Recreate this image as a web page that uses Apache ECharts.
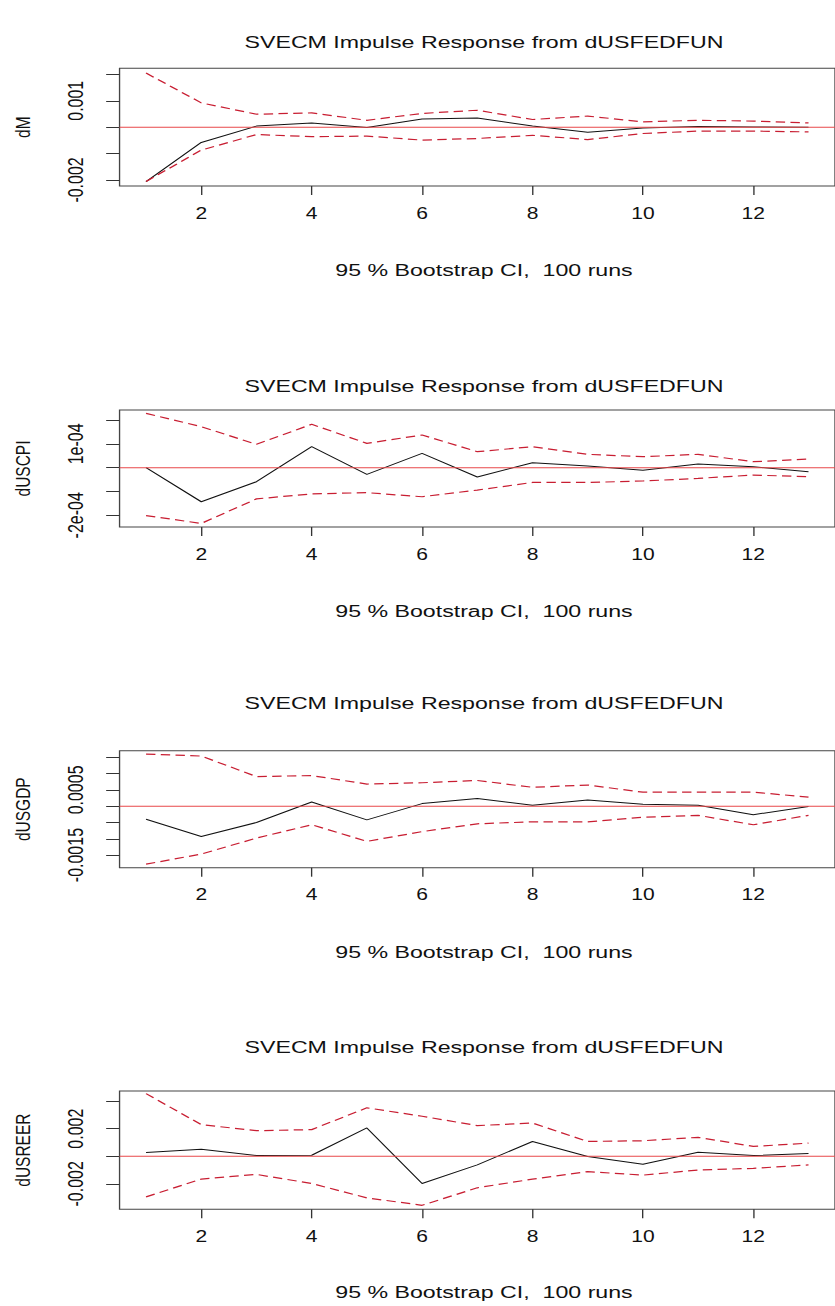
<!DOCTYPE html>
<html>
<head>
<meta charset="utf-8">
<script src="https://cdn.jsdelivr.net/npm/echarts@6/dist/echarts.min.js"></script>
<style>
  html, body { margin: 0; padding: 0; background: #fff; overflow: hidden; }
  #chart { width: 623px; height: 1306px; transform: scaleX(1.3403); transform-origin: 0 0; }
</style>
</head>
<body>
<div id="chart"></div>
<script>
// ---- data ----
const steps = [1, 2, 3, 4, 5, 6, 7, 8, 9, 10, 11, 12, 13];
const xLimits = [0.52, 13.48];
const xTickValues = [2, 4, 6, 8, 10, 12];
const mainTitle = 'SVECM Impulse Response from dUSFEDFUN';
const subTitle = '95 % Bootstrap CI,  100 runs';
const variableNames = ['dM', 'dUSCPI', 'dUSGDP', 'dUSREER'];

// dM
const dM_resp  = [-0.00206, -0.00058, 0.00004, 0.00016, -0.00001, 0.00031, 0.00035, 0.00004, -0.00019, -0.00003, 0.00002, 0.00001, 0.00000];
const dM_upper = [0.00205, 0.00092, 0.00049, 0.00054, 0.00026, 0.00052, 0.00064, 0.00029, 0.00042, 0.00020, 0.00026, 0.00023, 0.00016];
const dM_lower = [-0.00206, -0.00087, -0.00028, -0.00036, -0.00034, -0.00049, -0.00043, -0.00031, -0.00047, -0.00024, -0.00015, -0.00015, -0.00018];
const dM_ticks = [-0.002, -0.001, 0, 0.001, 0.002];
const dM_labelValues = [-0.002, 0.001];
const dM_labelTexts = ['-0.002', '0.001'];

// dUSCPI
const dUSCPI_resp  = [0.0, -1.43e-4, -0.59e-4, 0.88e-4, -0.28e-4, 0.60e-4, -0.39e-4, 0.21e-4, 0.07e-4, -0.11e-4, 0.15e-4, 0.04e-4, -0.17e-4];
const dUSCPI_upper = [2.28e-4, 1.72e-4, 0.98e-4, 1.82e-4, 1.02e-4, 1.37e-4, 0.67e-4, 0.88e-4, 0.56e-4, 0.46e-4, 0.56e-4, 0.25e-4, 0.36e-4];
const dUSCPI_lower = [-2.01e-4, -2.34e-4, -1.31e-4, -1.10e-4, -1.05e-4, -1.22e-4, -0.94e-4, -0.62e-4, -0.62e-4, -0.56e-4, -0.45e-4, -0.31e-4, -0.38e-4];
const dUSCPI_ticks = [-2e-4, -1e-4, 0, 1e-4, 2e-4];
const dUSCPI_labelValues = [-2e-4, 1e-4];
const dUSCPI_labelTexts = ['-2e-04', '1e-04'];

// dUSGDP
const dUSGDP_resp  = [-0.00040, -0.00093, -0.00050, 0.00013, -0.00042, 0.00008, 0.00024, 0.00003, 0.00019, 0.00006, 0.00003, -0.00026, -0.00001];
const dUSGDP_upper = [0.00160, 0.00154, 0.00091, 0.00094, 0.00068, 0.00072, 0.00079, 0.00058, 0.00065, 0.00043, 0.00043, 0.00043, 0.00028];
const dUSGDP_lower = [-0.00178, -0.00147, -0.00098, -0.00057, -0.00108, -0.00078, -0.00054, -0.00048, -0.00048, -0.00034, -0.00028, -0.00057, -0.00028];
const dUSGDP_ticks = [-0.0015, -0.001, -0.0005, 0, 0.0005, 0.001, 0.0015];
const dUSGDP_labelValues = [-0.0015, 0.0005];
const dUSGDP_labelTexts = ['-0.0015', '0.0005'];

// dUSREER
const dUSREER_resp  = [0.00027, 0.00051, 0.00005, 0.00007, 0.00205, -0.00198, -0.00063, 0.00107, -0.00002, -0.00059, 0.00029, 0.00005, 0.00020];
const dUSREER_upper = [0.00454, 0.00229, 0.00185, 0.00193, 0.00351, 0.00290, 0.00222, 0.00241, 0.00107, 0.00112, 0.00137, 0.00071, 0.00095];
const dUSREER_lower = [-0.00295, -0.00166, -0.00132, -0.00198, -0.00302, -0.00356, -0.00229, -0.00166, -0.00112, -0.00137, -0.00100, -0.00088, -0.00063];
const dUSREER_ticks = [-0.002, 0, 0.002, 0.004];
const dUSREER_labelValues = [-0.002, 0.002];
const dUSREER_labelTexts = ['-0.002', '0.002'];

const zeroLine = 0;

// ---- layout (chart coords; the page is stretched horizontally by CSS) ----
const FONT = '"Liberation Sans", Arial, sans-serif';
const TEXT_COLOR = '#111';
const gridLeft = 89.2;
const gridWidth = 543.7;
const titleX = 361.1;
const layout = [
  { top: 68.3,  height: 117.7, min: -0.00223, max: 0.00223, titleY: 42,   subY: 270 },
  { top: 410,   height: 117,   min: -2.49e-4, max: 2.42e-4, titleY: 386,  subY: 611 },
  { top: 750.7, height: 117,   min: -0.001888, max: 0.001704, titleY: 703, subY: 952 },
  { top: 1091,  height: 118.3, min: -0.00385, max: 0.00473, titleY: 1047, subY: 1292 }
];

const panels = [
  { resp: dM_resp, upper: dM_upper, lower: dM_lower, ticks: dM_ticks, lv: dM_labelValues, lt: dM_labelTexts },
  { resp: dUSCPI_resp, upper: dUSCPI_upper, lower: dUSCPI_lower, ticks: dUSCPI_ticks, lv: dUSCPI_labelValues, lt: dUSCPI_labelTexts },
  { resp: dUSGDP_resp, upper: dUSGDP_upper, lower: dUSGDP_lower, ticks: dUSGDP_ticks, lv: dUSGDP_labelValues, lt: dUSGDP_labelTexts },
  { resp: dUSREER_resp, upper: dUSREER_upper, lower: dUSREER_lower, ticks: dUSREER_ticks, lv: dUSREER_labelValues, lt: dUSREER_labelTexts }
];

const grids = [], xAxes = [], yAxes = [], series = [], graphics = [];
panels.forEach((p, i) => {
  const L = layout[i];
  grids.push({ left: gridLeft, width: gridWidth, top: L.top, height: L.height, show: true,
    borderColor: '#444', borderWidth: 1, backgroundColor: 'transparent' });
  xAxes.push({
    gridIndex: i, type: 'value', min: xLimits[0], max: xLimits[1], position: 'bottom',
    axisLine: { show: false, onZero: false },
    axisTick: { show: true, inside: false, length: 9, customValues: xTickValues, lineStyle: { color: '#333', width: 1 } },
    axisLabel: { customValues: xTickValues, margin: 19, fontSize: 15.7, color: TEXT_COLOR, fontFamily: FONT },
    splitLine: { show: false }, splitArea: { show: false }
  });
  yAxes.push({
    gridIndex: i, type: 'value', min: L.min, max: L.max, position: 'left',
    name: variableNames[i], nameLocation: 'middle', nameRotate: 90, nameGap: 64,
    nameTextStyle: { fontSize: 15.5, color: TEXT_COLOR, fontFamily: FONT },
    axisLine: { show: false, onZero: false },
    axisTick: { show: true, inside: false, length: 10, customValues: p.ticks, lineStyle: { color: '#333', width: 1 } },
    axisLabel: {
      customValues: p.lv, rotate: 90, margin: 25, fontSize: 16, color: TEXT_COLOR, fontFamily: FONT,
      formatter: (v) => { for (let k = 0; k < p.lv.length; k++) { if (Math.abs(v - p.lv[k]) < 1e-12) return p.lt[k]; } return ''; }
    },
    splitLine: { show: false }, splitArea: { show: false }
  });
  series.push({
    type: 'line', xAxisIndex: i, yAxisIndex: i, symbol: 'none', silent: true, z: 2,
    data: steps.map((s, k) => [s, p.resp[k]]),
    lineStyle: { color: '#111', width: 1 }
  });
  series.push({
    type: 'line', xAxisIndex: i, yAxisIndex: i, symbol: 'none', silent: true, z: 3,
    data: steps.map((s, k) => [s, p.upper[k]]),
    lineStyle: { color: '#c81e32', width: 1.2, type: [7, 4] }
  });
  series.push({
    type: 'line', xAxisIndex: i, yAxisIndex: i, symbol: 'none', silent: true, z: 3,
    data: steps.map((s, k) => [s, p.lower[k]]),
    lineStyle: { color: '#c81e32', width: 1.2, type: [7, 4] }
  });
  // zero reference line (abline h = 0), spanning the whole x range
  series.push({
    type: 'line', xAxisIndex: i, yAxisIndex: i, symbol: 'none', silent: true, z: 5,
    data: xLimits.map(x => [x, zeroLine]),
    lineStyle: { color: '#e8474a', width: 1, type: 'solid' }
  });
  graphics.push({ type: 'text', x: titleX, y: L.titleY, silent: true,
    style: { text: mainTitle, fontSize: 17.3, fontFamily: FONT, fill: TEXT_COLOR, align: 'center', verticalAlign: 'middle' } });
  graphics.push({ type: 'text', x: titleX, y: L.subY, silent: true,
    style: { text: subTitle, fontSize: 17.3, fontFamily: FONT, fill: TEXT_COLOR, align: 'center', verticalAlign: 'middle' } });
});

const chart = echarts.init(document.getElementById('chart'), null, { renderer: 'svg' });
chart.setOption({
  animation: false,
  backgroundColor: '#fff',
  grid: grids, xAxis: xAxes, yAxis: yAxes, series: series, graphic: graphics
});
</script>
</body>
</html>
